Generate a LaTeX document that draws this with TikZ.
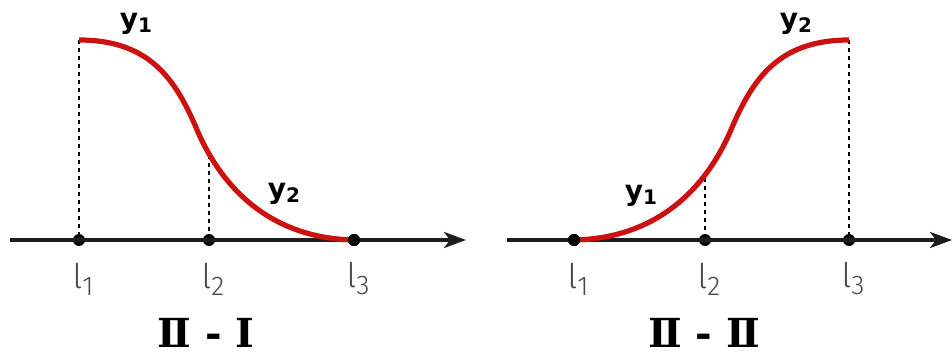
\documentclass[tikz,border=0pt]{standalone}
\usepackage{fontspec}
\setmainfont{DejaVu Sans}
\newfontfamily\lfont{Fira Sans Light}
\newfontfamily\yfont{DejaVu Sans}
\newfontfamily\rfont{DejaVu Serif}
\usetikzlibrary{arrows.meta}
\definecolor{curvered}{RGB}{204,17,17}
\definecolor{axisgray}{RGB}{30,30,30}
\tikzset{
  axisline/.style={draw=axisgray,line width=3.2pt,-{Stealth[length=22pt,width=16pt,inset=6pt]}},
  dot/.style={circle,fill=black,inner sep=0pt,minimum size=12pt},
  guide/.style={draw=black,line width=1.3pt,dash pattern=on 4pt off 4pt},
  curve/.style={draw=curvered,line width=5.2pt},
  llabel/.style={font=\lfont\fontsize{34}{34}\selectfont,text=black!72},
  ylabel/.style={font=\yfont\bfseries\fontsize{28}{28}\selectfont},
  title/.style={font=\rfont\bfseries\fontsize{40}{40}\selectfont},
}
\newcommand{\lsub}[1]{l\raisebox{-7pt}{\fontsize{27}{27}\selectfont #1}}
\newcommand{\ysub}[1]{y\raisebox{-4pt}{\fontsize{20}{20}\selectfont #1}}
\begin{document}
\begin{tikzpicture}[x=1pt,y=-1pt]
\useasboundingbox (0,0) rectangle (952,358);
% ---------- left panel ----------
\coordinate (la0) at (10,240);
\coordinate (la1) at (466,240);
\node[dot] (l1) at (79,240) {};
\node[dot] (l2) at (209,240) {};
\node[dot] (l3) at (354,240) {};
\coordinate (t1) at (79,40);
\coordinate (t2) at (209,155);
\draw[guide] (t1) -- (l1);
\draw[guide] (t2) -- (l2);
\draw[axisline] (la0) -- (la1);
\draw[curve] (t1) .. controls (150,40) and (175,80) .. (195,125)
  .. controls (215,175) and (260,238) .. (l3.center);
\node[dot] at (l3) {};
\node[ylabel] (ly1) at (136,24) {\ysub{1}};
\node[ylabel] (ly2) at (284,194) {\ysub{2}};
\node[llabel] (tl1) at (83,279) {\lsub{1}};
\node[llabel] (tl2) at (213,279) {\lsub{2}};
\node[llabel] (tl3) at (358,279) {\lsub{3}};
\node[title] (lt) at (206,333) {Ⅱ - Ⅰ};
% ---------- right panel ----------
\coordinate (ra0) at (507,240);
\coordinate (ra1) at (952,240);
\node[dot] (r1) at (574,240) {};
\node[dot] (r2) at (705,240) {};
\node[dot] (r3) at (849,240) {};
\coordinate (s2) at (705,178);
\coordinate (s3) at (849,40);
\draw[guide] (s2) -- (r2);
\draw[guide] (s3) -- (r3);
\draw[axisline] (ra0) -- (ra1);
\draw[curve] (r1.center) .. controls (668,238) and (713,175) .. (733,125)
  .. controls (753,80) and (778,40) .. (s3);
\node[dot] at (r1) {};
\node[ylabel] (ry1) at (641,196) {\ysub{1}};
\node[ylabel] (ry2) at (796,24) {\ysub{2}};
\node[llabel] (tr1) at (578,279) {\lsub{1}};
\node[llabel] (tr2) at (709,279) {\lsub{2}};
\node[llabel] (tr3) at (853,279) {\lsub{3}};
\node[title] (rt) at (704,333) {Ⅱ - Ⅱ};
\end{tikzpicture}
\end{document}
